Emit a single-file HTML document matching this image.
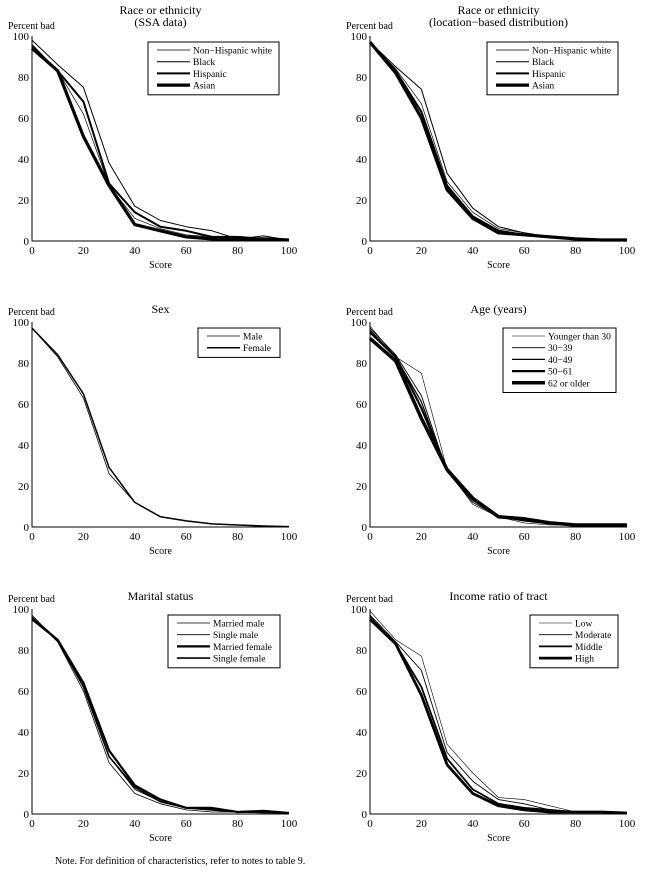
<!DOCTYPE html>
<html><head><meta charset="utf-8">
<style>
html,body{margin:0;padding:0;background:#fff;}
svg{display:block;font-family:"Liberation Serif",serif;}
</style></head>
<body>
<svg id="chart" width="645" height="882" viewBox="0 0 645 882" xmlns="http://www.w3.org/2000/svg"></svg>
<script>
const scores = [0,10,20,30,40,50,60,70,80,90,100];
const xTicks = [0,20,40,60,80,100];
const yTicks = [0,20,40,60,80,100];

const raceSsaNames = ["Non\u2212Hispanic white","Black","Hispanic","Asian"];
const raceSsaWhite = [96,83,62,27,11,6,3,2,1,1,0.5];
const raceSsaBlack = [98,86,75,38,17,10,7,5,1,2.5,0.5];
const raceSsaHispanic = [95,83,68,28,14,7,5,2,2,1,0.5];
const raceSsaAsian = [94,83,51,27,8,5,2,1,1,1,0.5];

const raceLocNames = ["Non\u2212Hispanic white","Black","Hispanic","Asian"];
const raceLocWhite = [97,84,67,29,14,6,4,2,1,1,0.5];
const raceLocBlack = [97,85,74,33,16,7,4,2,1,0.5,0.5];
const raceLocHispanic = [97,83,63,27,12,5,3,2,1,0.5,0.5];
const raceLocAsian = [97,82,60,25,11,4,3,2,1,0.5,0.5];

const sexNames = ["Male","Female"];
const sexMale = [97,83,63,26,12,5,3,1.5,1,0.5,0.2];
const sexFemale = [97,84,65,29,12,5,3,1.5,1,0.5,0.2];

const ageNames = ["Younger than 30","30\u221239","40\u221249","50\u221261","62 or older"];
const ageU30 = [98,83,75,28,11,5,2,1,1,0.5,0.5];
const age3039 = [97,84,64,27,12,5,3,1.5,1,0.5,0.5];
const age4049 = [96,83,61,27,13,5,3,1.5,1,1,0.5];
const age5061 = [95,83,58,28,14,5,4,2,1,1,1];
const age62 = [92,81,53,28,14,5,4,2,1,1,1];

const maritalNames = ["Married male","Single male","Married female","Single female"];
const maritalMM = [96,84,62,28,12,6,3,2,1,1,0.5];
const maritalSM = [97,84,60,25,10,5,2,1,1,0.5,0.5];
const maritalMF = [95,85,64,31,14,7,3,3,1,1.5,0.5];
const maritalSF = [96,85,62,28,13,6,3,2,1,1,0.5];

const incomeNames = ["Low","Moderate","Middle","High"];
const incomeLow = [99,85,77,34,20,8,7,4,1,1,0.5];
const incomeModerate = [97,84,70,30,16,7,5,2,1,1,0.5];
const incomeMiddle = [96,83,62,27,12,5,3,2,1,1,0.5];
const incomeHigh = [95,83,58,24,10,4,2,1,1,1,0.5];

const NS="http://www.w3.org/2000/svg";
const svg=document.getElementById('chart');
function mk(tag,attrs,parent){const e=document.createElementNS(NS,tag);for(const k in attrs)e.setAttribute(k,attrs[k]);(parent||svg).appendChild(e);return e;}

const panels=[
 {key:'race-ssa',title:["Race or ethnicity","(SSA data)"],x0:32,y0:36,names:raceSsaNames,series:[raceSsaWhite,raceSsaBlack,raceSsaHispanic,raceSsaAsian],w:[0.7,1,2,3.2],leg:[148,42,131]},
 {key:'race-loc',title:["Race or ethnicity","(location\u2212based distribution)"],x0:370,y0:36,names:raceLocNames,series:[raceLocWhite,raceLocBlack,raceLocHispanic,raceLocAsian],w:[0.7,1,2,3.2],leg:[487,42,131]},
 {key:'sex',title:["Sex"],x0:32,y0:322,names:sexNames,series:[sexMale,sexFemale],w:[0.8,1.5],leg:[198,328,82]},
 {key:'age',title:["Age (years)"],x0:370,y0:322,names:ageNames,series:[ageU30,age3039,age4049,age5061,age62],w:[0.6,0.9,1.2,2.2,3.5],leg:[503,328,113]},
 {key:'marital',title:["Marital status"],x0:32,y0:609,names:maritalNames,series:[maritalMM,maritalSM,maritalMF,maritalSF],w:[0.8,0.8,2.2,1.6],leg:[168,615,112]},
 {key:'income',title:["Income ratio of tract"],x0:370,y0:609,names:incomeNames,series:[incomeLow,incomeModerate,incomeMiddle,incomeHigh],w:[0.6,0.9,1.8,2.8],leg:[530,615,88]}
];
const PW=257, PH=205;

panels.forEach(p=>{
  const g=mk('g',{});
  
  
  const sx=v=>p.x0+v/100*PW;
  const sy=v=>p.y0+PH-v/100*PH;
  const cx=p.x0+PW/2;
  p.title.forEach((t,i)=>{
    const ty = p.title.length===2 ? p.y0-22+i*12 : p.y0-9;
    const te=mk('text',{x:cx,y:ty,'text-anchor':'middle','font-size':12},g);
    te.textContent=t;
    
    
  });
  const yl=mk('text',{x:p.x0-24,y:p.y0-7,'font-size':10},g);
  yl.textContent="Percent bad";
  
  
  const xl=mk('text',{x:cx,y:p.y0+PH+27,'text-anchor':'middle','font-size':10},g);
  xl.textContent="Score";
  
  
  const ax=mk('path',{d:`M${p.x0},${p.y0} V${p.y0+PH} H${p.x0+PW}`,stroke:'#000','stroke-width':1,fill:'none'},g);
  
  
  xTicks.forEach(v=>{
    const t=mk('text',{x:sx(v),y:p.y0+PH+13,'text-anchor':'middle','font-size':11},g);
    t.textContent=v;
    
    
  });
  yTicks.forEach(v=>{
    const t=mk('text',{x:p.x0-3,y:sy(v)+4,'text-anchor':'end','font-size':11},g);
    t.textContent=v;
    
    
  });
  p.series.forEach((s,i)=>{
    const d=s.map((v,j)=>(j?'L':'M')+sx(scores[j]).toFixed(1)+','+sy(v).toFixed(1)).join(' ');
    const l=mk('path',{d:d,stroke:'#000','stroke-width':p.w[i],fill:'none','stroke-linejoin':'round'},g);
    
    
  });
  const [lx,ly,lw]=p.leg;
  const n=p.names.length;
  const lh=n*11.7+6;
  const box=mk('rect',{x:lx,y:ly,width:lw,height:lh,fill:'#fff',stroke:'#000','stroke-width':1},g);
  
  
  p.names.forEach((nm,i)=>{
    const yy=ly+8+i*11.7;
    const ll=mk('line',{x1:lx+9,x2:lx+42,y1:yy,y2:yy,stroke:'#000','stroke-width':p.w[i]},g);
    
    
    const lt=mk('text',{x:lx+45,y:yy+3.5,'font-size':9.5},g);
    lt.textContent=nm;
    
    
  });
});
const note=mk('text',{x:55,y:864,'font-size':10});
note.textContent="Note. For definition of characteristics, refer to notes to table 9.";


</script>
</body></html>
